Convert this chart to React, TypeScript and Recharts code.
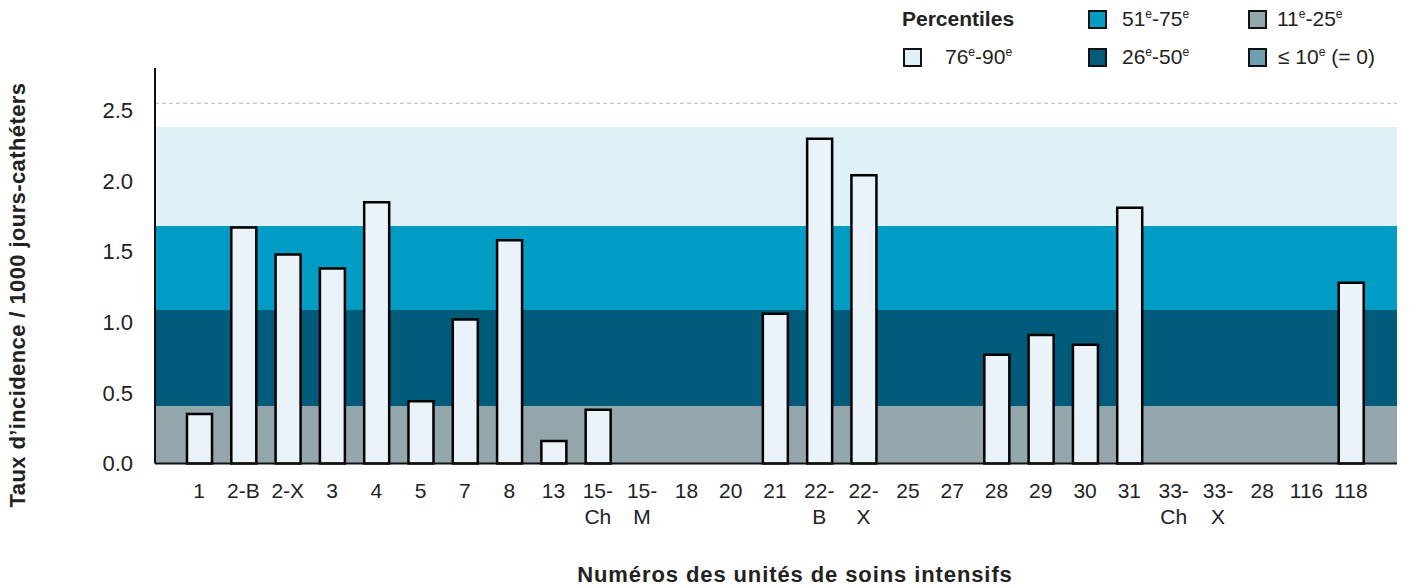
import { BarChart, Bar, XAxis, YAxis, CartesianGrid } from "recharts"

// ICU unit labels ("\n" marks where the label wraps)
const units = [
  "1", "2-B", "2-X", "3", "4", "5", "7", "8", "13", "15-\nCh", "15-\nM", "18", "20", "21",
  "22-\nB", "22-\nX", "25", "27", "28", "29", "30", "31", "33-\nCh", "33-\nX", "28", "116", "118",
]

// incidence rate / 1000 catheter-days
const rates = [
  0.35, 1.67, 1.48, 1.38, 1.85, 0.44, 1.02, 1.58, 0.16, 0.38, 0, 0, 0, 1.06,
  2.3, 2.04, 0, 0, 0.77, 0.91, 0.84, 1.81, 0, 0, 0, 0, 1.28,
]

const yTicks = [0, 0.5, 1, 1.5, 2, 2.5]

// percentile band limits, bottom to top (10e, 25e, 50e, 75e, 90e, axis top)
const percentileBounds = [0, 0.407, 1.087, 1.682, 2.383, 2.8]
const topGuide = [2.55]

const bandColors = {
  p90: "#dff0f7",
  p75: "#009cc3",
  p50: "#005a7a",
  p25: "#93a6ac",
  p10: "#6f9fb2",
}

const data = units.map((unit, i) => ({ unit, rate: rates[i] }))

const FONT = "'Liberation Sans', Arial, Helvetica, sans-serif"

function UnitTick(props: any) {
  const { x, y, payload } = props
  const lines = String(payload.value).split("\n")
  return (
    <text x={x} y={y} textAnchor="middle" fill="#222" fontSize={21} fontFamily={FONT}>
      {lines.map((l, i) => (
        <tspan key={i} x={x} dy={i === 0 ? 34 : 26}>
          {l}
        </tspan>
      ))}
    </text>
  )
}

const Sup = () => (
  <span style={{ fontSize: 12, position: "relative", top: -8 }}>e</span>
)

function Swatch({ left, top, color }: { left: number; top: number; color: string }) {
  return (
    <div
      style={{
        position: "absolute",
        left,
        top,
        width: 19,
        height: 19,
        boxSizing: "border-box",
        border: "2px solid #111",
        background: color,
      }}
    />
  )
}

function LegendText({ left, top, children, bold }: any) {
  return (
    <div
      style={{
        position: "absolute",
        left,
        top,
        lineHeight: "20px",
        fontSize: 21,
        fontWeight: bold ? 700 : 400,
        color: "#222",
        whiteSpace: "nowrap",
      }}
    >
      {children}
    </div>
  )
}

export default function App() {
  return (
    <div
      style={{
        position: "absolute",
        left: 0,
        top: 0,
        width: 1412,
        height: 587,
        background: "#fff",
        fontFamily: FONT,
      }}
    >
      <BarChart
        width={1412}
        height={587}
        data={data}
        margin={{ top: 68, right: 15, bottom: 63.5, left: 95 }}
        barCategoryGap={0}
      >
        <CartesianGrid
          vertical={false}
          stroke="none"
          horizontalValues={percentileBounds}
          horizontalFill={["transparent", bandColors.p90, bandColors.p75, bandColors.p50, bandColors.p25, "transparent"]}
          fillOpacity={1}
        />
        <CartesianGrid
          vertical={false}
          horizontalValues={topGuide}
          stroke="#b8b8b8"
          strokeDasharray="4 3"
        />
        <XAxis
          dataKey="unit"
          interval={0}
          height={60}
          padding={{ left: 22, right: 24 }}
          tickLine={false}
          tickSize={0}
          tickMargin={0}
          axisLine={{ stroke: "#111", strokeWidth: 2 }}
          tick={<UnitTick />}
        />
        <YAxis
          width={60}
          domain={[0, 2.8]}
          ticks={yTicks}
          tickFormatter={(v: number) => v.toFixed(1)}
          tickLine={false}
          tickSize={0}
          tickMargin={22}
          axisLine={{ stroke: "#111", strokeWidth: 2 }}
          tick={{ fill: "#222", fontSize: 22, fontFamily: FONT }}
        />
        <Bar
          dataKey="rate"
          barSize={25}
          fill="#eaf3fa"
          stroke="#000"
          strokeWidth={2.5}
          isAnimationActive={false}
        />
      </BarChart>

      {/* legend */}
      <LegendText left={902} top={9} bold>
        Percentiles
      </LegendText>
      <Swatch left={903} top={48} color={bandColors.p90} />
      <LegendText left={945} top={47}>
        76<Sup />-90<Sup />
      </LegendText>
      <Swatch left={1088} top={10} color={bandColors.p75} />
      <LegendText left={1122} top={9}>
        51<Sup />-75<Sup />
      </LegendText>
      <Swatch left={1088} top={48} color={bandColors.p50} />
      <LegendText left={1122} top={47}>
        26<Sup />-50<Sup />
      </LegendText>
      <Swatch left={1248} top={10} color={bandColors.p25} />
      <LegendText left={1277} top={9}>
        11<Sup />-25<Sup />
      </LegendText>
      <Swatch left={1248} top={48} color={bandColors.p10} />
      <LegendText left={1278} top={47}>
        ≤ 10<Sup /> (= 0)
      </LegendText>

      {/* axis titles */}
      <div
        style={{
          position: "absolute",
          left: 18 - 260,
          top: 295 - 12,
          width: 520,
          height: 24,
          lineHeight: "24px",
          textAlign: "center",
          transform: "rotate(-90deg)",
          fontSize: 22,
          letterSpacing: 0.4,
          fontWeight: 700,
          color: "#222",
          whiteSpace: "nowrap",
        }}
      >
        Taux d’incidence / 1000 jours-cathéters
      </div>
      <div
        style={{
          position: "absolute",
          left: 795 - 300,
          top: 575 - 12,
          width: 600,
          height: 24,
          lineHeight: "24px",
          textAlign: "center",
          fontSize: 22,
          letterSpacing: 0.9,
          fontWeight: 700,
          color: "#222",
          whiteSpace: "nowrap",
        }}
      >
        Numéros des unités de soins intensifs
      </div>
    </div>
  )
}
